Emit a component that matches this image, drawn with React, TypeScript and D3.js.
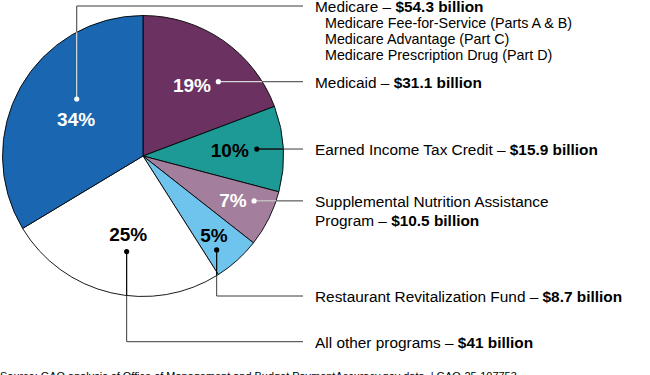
import React from "react";
import * as d3 from "d3";

// ---- Data ----
const categories = [
  "Medicaid",
  "Earned Income Tax Credit",
  "Supplemental Nutrition Assistance Program",
  "Restaurant Revitalization Fund",
  "All other programs",
  "Medicare",
];
const values = [31.1, 15.9, 10.5, 8.7, 41, 54.3];
const percentLabels = ["19%", "10%", "7%", "5%", "25%", "34%"];
const amountLabels = [
  "$31.1 billion",
  "$15.9 billion",
  "$10.5 billion",
  "$8.7 billion",
  "$41 billion",
  "$54.3 billion",
];
const nameLines = [
  ["Medicaid – "],
  ["Earned Income Tax Credit – "],
  ["Supplemental Nutrition Assistance", "Program – "],
  ["Restaurant Revitalization Fund – "],
  ["All other programs – "],
  ["Medicare – "],
];
const medicareParts = [
  "Medicare Fee-for-Service (Parts A & B)",
  "Medicare Advantage (Part C)",
  "Medicare Prescription Drug (Part D)",
];
const sourceNote =
  "Source: GAO analysis of Office of Management and Budget PaymentAccuracy.gov data.  |  GAO-25-107753";

// ---- Styles / layout ----
const colors = ["#6b3161", "#1d9a96", "#a47f9d", "#6fc4ee", "#ffffff", "#1a66b0"];
const labelColors = ["#fff", "#000", "#fff", "#000", "#000", "#fff"];
const W = 650;
const H = 375;
const cx = 143;
const cy = 156;
const R = 140.5;
const FONT = "Arial, 'Liberation Sans', Helvetica, sans-serif";
// percent label polar positions (deg clockwise from top, radius)
const pctPos = [
  { a: 34.7, r: 86 },
  { a: 86, r: 87 },
  { a: 116, r: 100 },
  { a: 138, r: 106 },
  { a: 190.7, r: 80 },
  { a: 299, r: 76.5 },
];
// leader dot polar positions
const dotPos = [
  { a: 45.4, r: 105.8 },
  { a: 86.5, r: 114 },
  { a: 112, r: 119.8 },
  { a: 141.9, r: 119.4 },
  { a: 189.7, r: 97 },
  { a: 310.7, r: 87.4 },
];
const elbowY: (number | null)[] = [null, null, null, 296, 341.7, 6];
const lineEndX = 303;
const textX = 315;
const lineColor = "#3a3a3a";

function polar(aDeg: number, r: number) {
  const a = (aDeg * Math.PI) / 180;
  return [cx + r * Math.sin(a), cy - r * Math.cos(a)];
}

export default function App() {
  const pie = d3
    .pie<number>()
    .sort(null)
    .startAngle(0)
    .endAngle(2 * Math.PI)
    .value((d) => d);
  const arcs = pie(values);
  const arcGen = d3.arc<d3.PieArcDatum<number>>().innerRadius(0).outerRadius(R);
  const line = d3.line();

  return (
    <svg
      width={W}
      height={H}
      style={{ position: "absolute", left: 0, top: 0, background: "#fff" }}
      fontFamily={FONT}
    >
      <defs>
        <clipPath id="pieClip">
          <circle cx={cx} cy={cy} r={R} />
        </clipPath>
      </defs>
      <g transform={`translate(${cx},${cy})`}>
        {arcs.map((a, i) => (
          <path
            key={categories[i]}
            d={arcGen(a) || ""}
            fill={colors[i]}
            stroke="#000"
            strokeWidth={0.9}
            strokeLinejoin="round"
          />
        ))}
      </g>

      {categories.map((c, i) => {
        const [dx, dy] = polar(dotPos[i].a, dotPos[i].r);
        const ey = elbowY[i];
        const pts: [number, number][] =
          ey === null
            ? [
                [dx, dy],
                [lineEndX, dy],
              ]
            : [
                [dx, dy],
                [dx, ey],
                [lineEndX, ey],
              ];
        const d = line(pts) || "";
        return (
          <g key={"lead" + c}>
            <path d={d} fill="none" stroke={lineColor} strokeWidth={1} />
            <path
              d={d}
              fill="none"
              stroke={labelColors[i]}
              strokeWidth={1}
              clipPath="url(#pieClip)"
            />
            <circle cx={dx} cy={dy} r={2.6} fill={labelColors[i]} />
          </g>
        );
      })}

      {percentLabels.map((p, i) => {
        const [x, y] = polar(pctPos[i].a, pctPos[i].r);
        return (
          <text
            key={"pct" + i}
            x={x}
            y={y}
            dy="0.36em"
            textAnchor="middle"
            fontSize={19}
            fontWeight="bold"
            fill={labelColors[i]}
          >
            {p}
          </text>
        );
      })}

      {categories.map((c, i) => {
        const [, dy] = polar(dotPos[i].a, dotPos[i].r);
        const ly = elbowY[i] === null ? dy : (elbowY[i] as number);
        const lines = nameLines[i];
        return (
          <text key={"lbl" + c} fontSize={15.4} fill="#000">
            {lines.map((t, j) => (
              <tspan key={j} x={textX} y={ly + 6 + j * 19.5}>
                {t}
                {j === lines.length - 1 && (
                  <tspan fontWeight="bold">{amountLabels[i]}</tspan>
                )}
              </tspan>
            ))}
          </text>
        );
      })}

      {medicareParts.map((t, j) => (
        <text key={"mp" + j} x={325} y={28 + j * 16} fontSize={14.3} fill="#000">
          {t}
        </text>
      ))}

      <text x={0} y={380} fontSize={10.95} fill="#000">
        {sourceNote}
      </text>
    </svg>
  );
}
